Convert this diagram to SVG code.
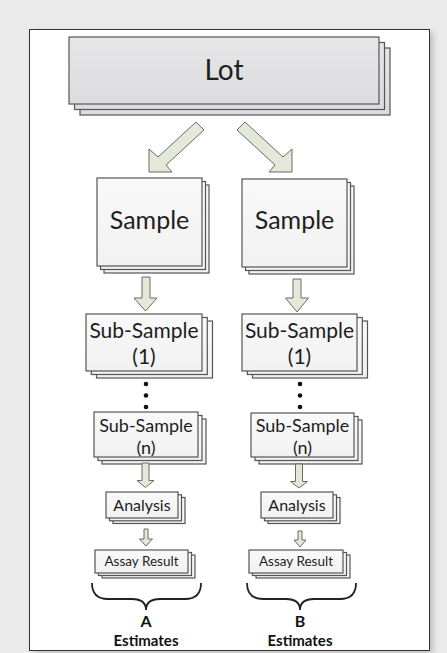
<svg xmlns="http://www.w3.org/2000/svg" width="447" height="653" viewBox="0 0 447 653">
<defs>
<linearGradient id="gLot" x1="0" y1="0" x2="0" y2="1"><stop offset="0" stop-color="#e6e6e8"/><stop offset="1" stop-color="#dcdcde"/></linearGradient>
<linearGradient id="gBox" x1="0" y1="0" x2="0" y2="1"><stop offset="0" stop-color="#f9f9f9"/><stop offset="1" stop-color="#f1f1f1"/></linearGradient>
<filter id="sh" x="-5%" y="-5%" width="115%" height="115%"><feGaussianBlur stdDeviation="3"/></filter>
</defs>
<style>
.lot{fill:url(#gLot);stroke:#555;stroke-width:1.2}
.bx{fill:url(#gBox);stroke:#555;stroke-width:1.2}
.ar{fill:#e4e8d9;stroke:#6a6a6a;stroke-width:1}
.t{font-family:Lato,"Open Sans",sans-serif;fill:#1e1e1e;text-anchor:middle}
.b{font-family:Lato,"Open Sans",sans-serif;font-weight:bold;fill:#111;text-anchor:middle}
.br{fill:none;stroke:#222;stroke-width:1.8}
</style>
<rect x="0" y="0" width="447" height="653" fill="#ebebeb"/>
<rect x="33" y="32" width="400" height="621" fill="#9a9a9a" opacity="0.6" filter="url(#sh)"/>
<rect x="29.5" y="29.5" width="400" height="621" fill="#ffffff" stroke="#333" stroke-width="1"/>

<g id="lot">
<rect class="lot" x="80" y="48" width="310" height="67"/>
<rect class="lot" x="74.5" y="42.5" width="310" height="67"/>
<rect class="lot" x="69" y="37" width="310" height="67"/>
<text class="t" x="224" y="80" font-size="28">Lot</text>
</g>

<g id="sampleA">
<rect class="bx" x="104" y="185" width="105" height="88"/>
<rect class="bx" x="100.5" y="181.5" width="105" height="88"/>
<rect class="bx" x="97" y="178" width="105" height="88"/>
<text class="t" x="149.5" y="229" font-size="25">Sample</text>
</g>
<g id="sampleB">
<rect class="bx" x="249" y="186" width="105" height="88"/>
<rect class="bx" x="245.5" y="182.5" width="105" height="88"/>
<rect class="bx" x="242" y="179" width="105" height="88"/>
<text class="t" x="294.5" y="229" font-size="25">Sample</text>
</g>

<g id="sub1A">
<rect class="bx" x="96.5" y="321" width="116" height="57"/>
<rect class="bx" x="91.3" y="317.5" width="116" height="57"/>
<rect class="bx" x="86" y="314" width="116" height="57"/>
<text class="t" x="144" y="338" font-size="21">Sub-Sample</text>
<text class="t" x="144" y="364" font-size="21">(1)</text>
</g>
<g id="sub1B">
<rect class="bx" x="252.5" y="321" width="115" height="57"/>
<rect class="bx" x="247.3" y="317.5" width="115" height="57"/>
<rect class="bx" x="242" y="314" width="115" height="57"/>
<text class="t" x="299.5" y="338" font-size="21">Sub-Sample</text>
<text class="t" x="299.5" y="364" font-size="21">(1)</text>
</g>

<g id="dotsA" fill="#111">
<circle cx="146" cy="384" r="2.3"/><circle cx="146" cy="395.5" r="2.3"/><circle cx="146" cy="407" r="2.3"/>
</g>
<g id="dotsB" fill="#111">
<circle cx="300" cy="384" r="2.3"/><circle cx="300" cy="395.5" r="2.3"/><circle cx="300" cy="407" r="2.3"/>
</g>

<g id="subnA">
<rect class="bx" x="102" y="419" width="104" height="45"/>
<rect class="bx" x="98" y="415.5" width="104" height="45"/>
<rect class="bx" x="94" y="412" width="104" height="45"/>
<text class="t" x="146" y="432" font-size="18">Sub-Sample</text>
<text class="t" x="146" y="454" font-size="18">(n)</text>
</g>
<g id="subnB">
<rect class="bx" x="259" y="420" width="103" height="44"/>
<rect class="bx" x="255" y="416.5" width="103" height="44"/>
<rect class="bx" x="251" y="413" width="103" height="44"/>
<text class="t" x="302.5" y="432" font-size="18">Sub-Sample</text>
<text class="t" x="302.5" y="454" font-size="18">(n)</text>
</g>

<g id="analysisA">
<rect class="bx" x="113" y="497.5" width="72" height="26"/>
<rect class="bx" x="109.5" y="494.8" width="72" height="26"/>
<rect class="bx" x="106" y="492" width="72" height="26"/>
<text class="t" x="142" y="510.5" font-size="16">Analysis</text>
</g>
<g id="analysisB">
<rect class="bx" x="268" y="497.5" width="72" height="26"/>
<rect class="bx" x="264.5" y="494.8" width="72" height="26"/>
<rect class="bx" x="261" y="492" width="72" height="26"/>
<text class="t" x="297" y="510.5" font-size="16">Analysis</text>
</g>

<g id="assayA">
<rect class="bx" x="102" y="555" width="93" height="23"/>
<rect class="bx" x="98.5" y="552.5" width="93" height="23"/>
<rect class="bx" x="95" y="550" width="93" height="23"/>
<text class="t" x="141.5" y="566" font-size="13.5">Assay Result</text>
</g>
<g id="assayB">
<rect class="bx" x="256" y="555" width="94" height="23"/>
<rect class="bx" x="252.5" y="552.5" width="94" height="23"/>
<rect class="bx" x="249" y="550" width="94" height="23"/>
<text class="t" x="296" y="566" font-size="13.5">Assay Result</text>
</g>

<g id="estA">
<path class="br" d="M92,583 Q92,599 108,599 L132,599 Q146,599 146,610 Q146,599 160,599 L185,599 Q201,599 201,583"/>
<text class="b" x="146" y="627" font-size="16">A</text>
<text class="b" x="146" y="646" font-size="15">Estimates</text>
</g>
<g id="estB">
<path class="br" d="M247,583 Q247,599 263,599 L286,599 Q300,599 300,610 Q300,599 314,599 L340,599 Q356,599 356,583"/>
<text class="b" x="300" y="627" font-size="16">B</text>
<text class="b" x="300" y="646" font-size="15">Estimates</text>
</g>

<g id="connectors">
<polygon class="ar" points="196,122 204,130 166,165 172,172 149,172 149,149 158,157"/>
<polygon class="ar" points="245,122 237,130 275,165 269,172 292,172 292,149 283,157"/>
<polygon class="ar" points="142,277 150,277 150,298 157,298 145.5,311 134,298 142,298"/>
<polygon class="ar" points="293,279 301,279 301,298 308.5,298 297,312 285.5,298 293,298"/>
<polygon class="ar" points="142,463 149,463 149,480.5 154,480.5 145.5,487.5 137,480.5 142,480.5"/>
<polygon class="ar" points="295.5,464 302.5,464 302.5,481.5 307.5,481.5 299,488 290.5,481.5 295.5,481.5"/>
<polygon class="ar" points="144,529 148,529 148,539 152.5,539 146,546 139.5,539 144,539"/>
<polygon class="ar" points="298,531 302,531 302,540 306,540 300,547 294,540 298,540"/>
</g>
</svg>
